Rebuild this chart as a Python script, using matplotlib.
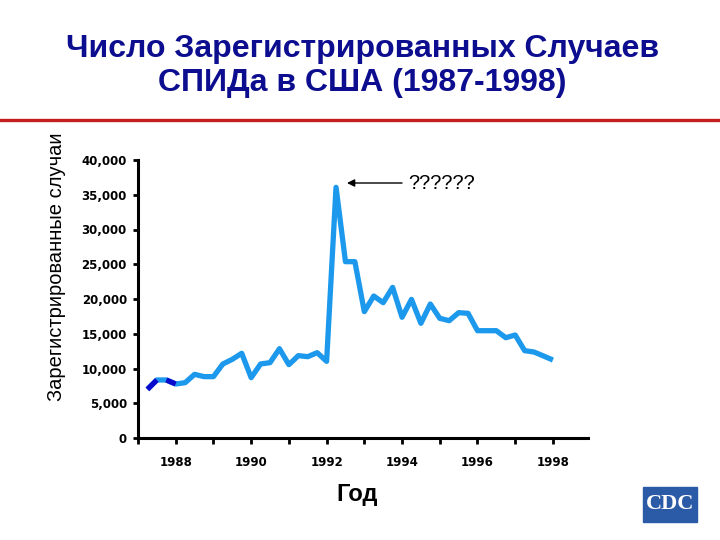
import numpy as np
import matplotlib
matplotlib.use("Agg")
import matplotlib.pyplot as plt
from matplotlib.patches import Rectangle
from matplotlib.lines import Line2D

# quarterly AIDS cases reported in the US
first_quarter = 1987.25
cases = [
    7000, 8350, 8350, 7770, 7960, 9160, 8830, 8830,
    10650, 11320, 12190, 8680, 10650, 10840, 12850, 10550,
    11850, 11700, 12280, 11030, 36070, 25370, 25370, 18180,
    20430, 19470, 21680, 17370, 19950, 16500, 19280, 17220,
    16880, 18030, 17940, 15440, 15440, 15440, 14430, 14820,
    12570, 12370, 11800, 11220,
]
year_ticks = list(range(1987, 1999))
year_labels = [str(y) if y % 2 == 0 else "" for y in year_ticks]
y_ticks = [0, 5000, 10000, 15000, 20000, 25000, 30000, 35000, 40000]

title = "Число Зарегистрированных Случаев\nСПИДа в США (1987-1998)"
x_title = "Год"
y_title = "Зарегистрированные случаи"
note = "??????"

quarters = first_quarter + 0.25 * np.arange(len(cases))

fig = plt.figure(figsize=(7.2, 5.4), dpi=100)
fig.patch.set_facecolor("white")

fig.text(0.503, 1 - 66 / 540, title, ha="center", va="center", fontsize=23,
         fontweight="bold", color="#0D0D8F", family="Liberation Sans",
         linespacing=1.2)
fig.add_artist(Line2D([0, 1], [1 - 120 / 540] * 2, color="#C41E1E", lw=2.4))

ax = fig.add_axes([138 / 720, 102 / 540, 450 / 720, 278 / 540])
ax.plot(quarters, cases, color="#1C98EC", lw=3.8, solid_capstyle="butt")
# first quarters drawn in dark blue
for i in (0, 2):
    ax.plot(quarters[i:i + 2], cases[i:i + 2], color="#0A0ACD", lw=3.8,
            solid_capstyle="butt")

ax.set_xlim(1987, 1998.93)
ax.set_ylim(0, 40000)
ax.set_xticks(year_ticks)
ax.set_xticklabels(year_labels)
ax.set_yticks(y_ticks)
ax.set_yticklabels([f"{v:,}" for v in y_ticks])
for s in ("top", "right"):
    ax.spines[s].set_visible(False)
for s in ("left", "bottom"):
    ax.spines[s].set_linewidth(2.2)
ax.tick_params(axis="y", direction="out", length=3.5, width=2, pad=4.5)
ax.tick_params(axis="x", direction="out", length=4, width=2, pad=9)
for lab in ax.get_yticklabels() + ax.get_xticklabels():
    lab.set_fontweight("bold")
    lab.set_fontfamily("DejaVu Sans")
    lab.set_fontsize(8.5)

ax.annotate("", xy=(1992.54, 36690), xytext=(1994.0, 36690),
            arrowprops=dict(arrowstyle="-|>", color="black", lw=1,
                            mutation_scale=11, shrinkA=0, shrinkB=0))
ax.text(1994.16, 36690, note, ha="left", va="center", fontsize=14.5,
        family="Liberation Sans")

fig.text(357 / 720, 1 - 494 / 540, x_title, ha="center", va="center",
         fontsize=17, fontweight="bold", family="Liberation Sans")
fig.text(57 / 720, 1 - 267 / 540, y_title, ha="center", va="center",
         rotation=90, fontsize=14.5, family="Liberation Sans")

# CDC logo
fig.add_artist(Rectangle((643 / 720, 1 - 522 / 540), 54 / 720, 35 / 540,
                         transform=fig.transFigure, color="#2B5BA6"))
fig.text(670 / 720, 1 - 504 / 540, "CDC", ha="center", va="center",
         fontsize=16, fontweight="bold", color="white", family="Liberation Serif")

fig.savefig("out.png", dpi=100)
